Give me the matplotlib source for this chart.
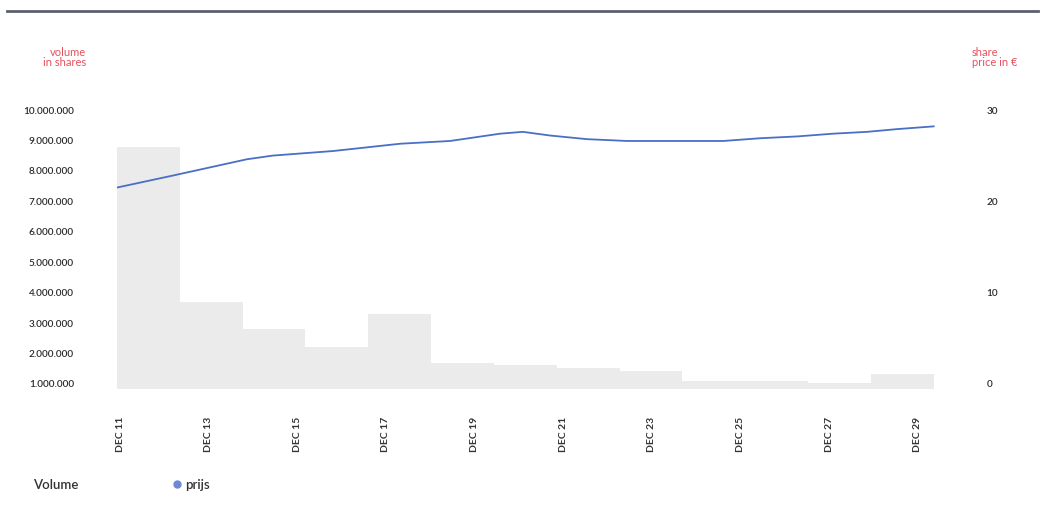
import numpy as np
import matplotlib
matplotlib.use("Agg")
import matplotlib.pyplot as plt
from matplotlib.ticker import FuncFormatter

# handelsdagen (balken) en volume per dag
dagen = ["DEC 11", "DEC 12", "DEC 13", "DEC 14", "DEC 15", "DEC 18", "DEC 19",
         "DEC 20", "DEC 21", "DEC 22", "DEC 27", "DEC 28", "DEC 29"]
volume = [8760000, 3660000, 2780000, 2180000, 3270000, 1650000, 1600000,
          1500000, 1400000, 1050000, 1050000, 1000000, 1300000]

# koers (lijn), positie in handelsdagen
prijs_pos = [0.0, 0.88, 2.07, 2.48, 3.44, 4.51, 5.30, 6.10, 6.46, 6.89, 7.48,
             8.12, 9.65, 10.24, 10.83, 11.40, 11.94, 12.42, 13.0]
prijs = [21.4, 22.7, 24.5, 24.9, 25.4, 26.2, 26.5, 27.3, 27.5, 27.1, 26.7,
         26.5, 26.5, 26.8, 27.0, 27.3, 27.5, 27.8, 28.1]

tick_labels = ["DEC 11", "DEC 13", "DEC 15", "DEC 17", "DEC 19",
               "DEC 21", "DEC 23", "DEC 25", "DEC 27", "DEC 29"]
vol_ticks = [1000000 * i for i in range(1, 11)]
prijs_ticks = [0, 10, 20, 30]

plt.rcParams['font.family'] = ['Lato', 'DejaVu Sans']

W, H = 1046, 506
fig = plt.figure(figsize=(W / 100, H / 100), dpi=100)

# positie van de grafiek in pixels
x0, x1, y_top, y_bot = 117, 945, 100, 390
ax = fig.add_axes([x0 / W, 1 - y_bot / H, (x1 - x0) / W, (y_bot - y_top) / H])
ax2 = ax.twinx()

x = np.arange(len(volume))
ax.bar(x, volume, width=1.0, align='edge', color='#ebebeb', zorder=1)
ax.set_xlim(0, 13.18)
ax.set_ylim(1000000 - 6 / 30.44 * 1000000, 1000000 + 284 / 30.44 * 1000000)
ax.set_yticks(vol_ticks)
ax.yaxis.set_major_formatter(FuncFormatter(lambda v, p: f"{int(v):,}".replace(",", ".")))

ax2.plot(prijs_pos, prijs, color='#4a6fc4', lw=1.3, zorder=3)
ax2.set_ylim(-6 / 9.133, 284 / 9.133)
ax2.set_yticks(prijs_ticks)

ax.set_xticks(0.048 + 1.411 * np.arange(len(tick_labels)))
ax.set_xticklabels(tick_labels, rotation=90, fontsize=7.5, fontweight='bold', color='#333333')

ax.tick_params(axis='y', length=0, pad=31, labelsize=7.2, labelcolor='#2b2b2b')
ax.tick_params(axis='x', length=0, pad=19)
ax2.tick_params(axis='y', length=0, pad=30, labelsize=7.2, labelcolor='#2b2b2b')
for lbl in ax.get_yticklabels() + ax2.get_yticklabels():
    lbl.set_fontweight('semibold')

for a in (ax, ax2):
    for s in a.spines.values():
        s.set_visible(False)

# bovenste lijn
fig.add_artist(plt.Line2D([7 / W, 1038 / W], [1 - 12 / H, 1 - 12 / H],
                          color='#5b5f70', lw=2))

# as-titels
fig.text(86 / W, 1 - 47 / H, "volume\nin shares", ha='right', va='top',
         fontsize=8, color='#e8505b', linespacing=0.9)
fig.text(972 / W, 1 - 47 / H, "share\nprice in €", ha='left', va='top',
         fontsize=8, color='#e8505b', linespacing=0.9)

# legenda
fig.text(33 / W, 1 - 485 / H, "Volume", ha='left', va='center', fontsize=9.5,
         fontweight='semibold', color='#333333')
fig.add_artist(plt.Line2D([177 / W], [1 - 485 / H], marker='o', ms=5,
                          color='#6f87d6', lw=0))
fig.text(185 / W, 1 - 485 / H, "prijs", ha='left', va='center', fontsize=9.5,
         fontweight='semibold', color='#333333')

fig.savefig("out.png", dpi=100)
